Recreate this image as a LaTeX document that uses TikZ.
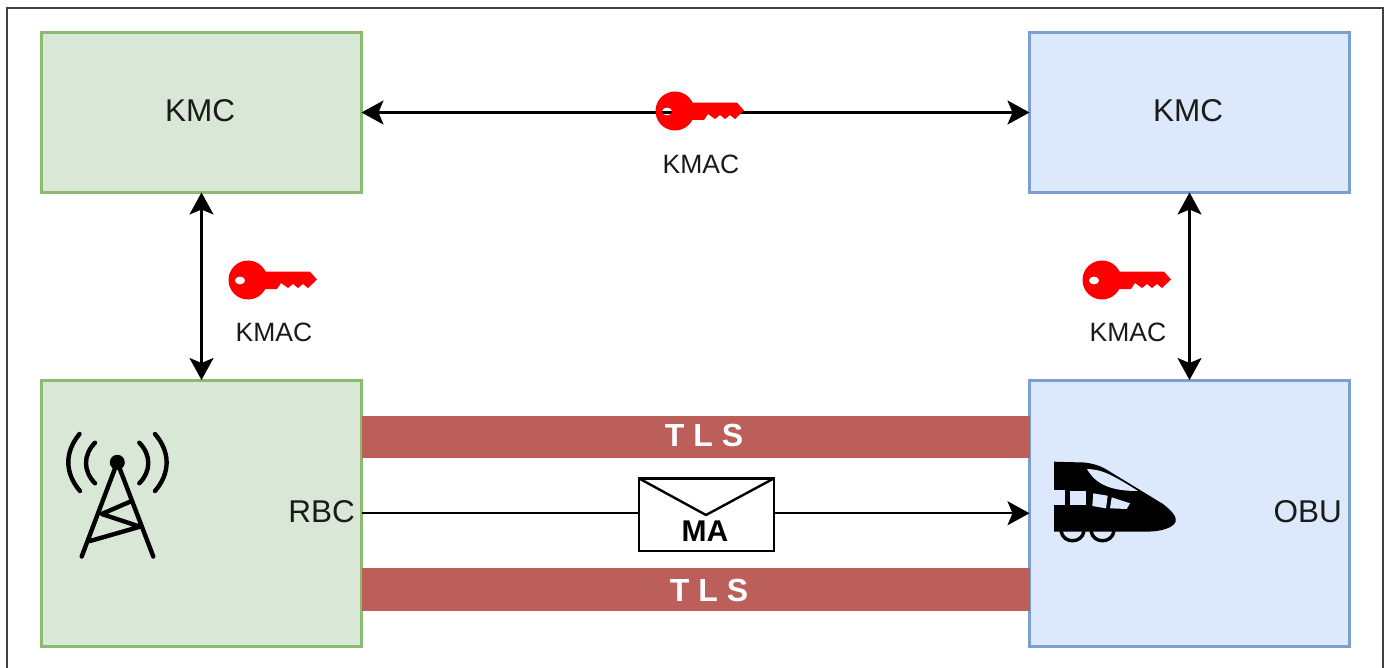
\documentclass[tikz,border=0pt]{standalone}
\usepackage{fontspec}
\setmainfont{Liberation Sans}
\usetikzlibrary{arrows.meta}
\definecolor{gfill}{HTML}{D9E8D6}
\definecolor{gline}{HTML}{8ABB70}
\definecolor{bfill}{HTML}{DCE8FB}
\definecolor{bline}{HTML}{7C9FD0}
\definecolor{tlsred}{HTML}{BC5F5A}
\definecolor{txt}{HTML}{1A1A1A}
\tikzset{
 x=1pt,y=-1pt,
 panel/.style={line width=3pt,minimum width=320pt,inner sep=0pt,outer sep=0pt,anchor=north west},
 gbox/.style={panel,draw=gline,fill=gfill},
 bbox/.style={panel,draw=bline,fill=bfill},
 lab/.style={font=\fontsize{31.5}{34}\selectfont,text=txt,inner sep=0pt},
 keylab/.style={font=\fontsize{26.5}{28}\selectfont,text=txt,inner sep=0pt},
 tlsbar/.style={fill=tlsred,draw=none,inner sep=0pt,outer sep=0pt,anchor=north west,minimum width=668pt,minimum height=42.4pt},
 tlstxt/.style={font=\bfseries\fontsize{32}{34}\selectfont,text=white,inner sep=0pt},
 tip/.tip={Stealth[length=22pt,width=24pt,inset=5pt]},
 conn/.style={line width=2.2pt,black,tip-tip},
 conn1/.style={line width=2.2pt,black,-tip},
 icon/.style={line width=4.4pt,black,line cap=round,line join=round},
}
% red key, origin at centre of the bow
\newcommand{\redkey}[2]{%
 \begin{scope}[shift={(#1,#2)}]
  \fill[red,even odd rule] (0,0) circle[radius=19.5] (-8,0.5) ellipse[x radius=5.2,y radius=4];
  \fill[red] (10,-8.3) -- (62,-8.3) -- (69,-0.5) -- (60,8) -- (55,4) -- (50,8) -- (45,4) -- (40,8) -- (33,3) -- (29,9) -- (10,9) -- cycle;
 \end{scope}}
\begin{document}
\begin{tikzpicture}
\useasboundingbox (0,0) rectangle (1386,668);
\fill[white] (0,0) rectangle (1386,668);
\draw[black!75,line width=2pt] (7,690) -- (7,8) -- (1383,8) -- (1383,690);
\node[gbox,minimum height=160pt] (kmcl) at (41.5,32.5) {};
\node[bbox,minimum height=160pt] (kmcr) at (1029.5,32.5) {};
\node[gbox,minimum height=266.5pt] (rbc) at (41.5,380) {};
\node[bbox,minimum height=266.5pt] (obu) at (1029.5,380) {};
\node[lab] (kmclt) at (200,111) {KMC};
\node[lab] (kmcrt) at (1188,111) {KMC};
\node[lab,anchor=east] (rbct) at (355,512) {RBC};
\node[lab,anchor=east] (obut) at (1342,512) {OBU};
\node[tlsbar] (tls1) at (361.5,416) {};
\node[tlsbar] (tls2) at (361.5,568.3) {};
\node[tlstxt] (tlst1) at (704,435) {T L S};
\node[tlstxt] (tlst2) at (709,590) {T L S};
\draw[conn] (kmcl) -- (kmcr);
\draw[conn] (kmcl) -- (rbc);
\draw[conn] (kmcr) -- (obu);
\node[draw=black,fill=white,line width=2.4pt,minimum width=134.5pt,minimum height=72.5pt,inner sep=0pt,outer sep=0pt,anchor=north west] (env) at (639.2,478.5) {};
\draw[line width=2.2pt] (rbc.east) -- (rbc.east -| env.west);
\draw[conn1] (obu.west -| env.east) -- (obu.west);
\draw[line width=2.4pt] (env.north west) -- (706,515) -- (env.north east);
\node[font=\bfseries\fontsize{30}{32}\selectfont,text=black,inner sep=0pt] (mat) at (705,531) {MA};
\redkey{675}{111}
\redkey{248}{280}
\redkey{1102}{280}
\node[keylab] (kt1) at (701,164) {KMAC};
\node[keylab] (kt2) at (274,332) {KMAC};
\node[keylab] (kt3) at (1128,332) {KMAC};
% antenna
\fill (117.3,462.3) circle[radius=7.5];
\draw[icon] (117.3,462.3) -- (81.7,556.5) (117.3,462.3) -- (153.3,556.5)
 (90,541) -- (140,526.7) -- (101.7,514) -- (130,501.7);
\draw[icon] (79.5,434) .. controls (64.5,452) and (64.5,473) .. (80,491);
\draw[icon] (95,442.7) .. controls (83,455) and (83,471) .. (95,483.3);
\draw[icon] (139.3,442.7) .. controls (151.3,455) and (151.3,471) .. (139.3,483.3);
\draw[icon] (155,434) .. controls (170.5,452) and (170.5,473) .. (155,491);
% train
\fill[black] (1054,461.7) -- (1084,462.5) .. controls (1098,464) and (1104,468) .. (1110,471.7) -- (1140,490) -- (1163,504) .. controls (1172,511) and (1177,517) .. (1175.7,521.7) .. controls (1174,526) and (1168,528.5) .. (1162,530) .. controls (1156,531.5) and (1150,531.7) .. (1140,531.7) -- (1054,531.7) -- cycle;
\fill[bfill] (1054,489.5) rectangle (1065,505);
\fill[bfill] (1070,490.7) rectangle (1086,505);
\fill[bfill] (1093.3,493.3) -- (1107.7,495.7) -- (1106,508.3) -- (1092.3,506) -- cycle;
\fill[bfill] (1111.7,497.3) -- (1130,503.3) -- (1126.7,509) -- (1110,508.3) -- cycle;
\fill[bfill] (1087,469) .. controls (1100,469.5) and (1108,472) .. (1138,491) .. controls (1112,491) and (1096,485) .. (1087,469) -- cycle;
\draw[black,line width=3.4pt] (1061,531) .. controls (1063,544) and (1082,544) .. (1084,531);
\draw[black,line width=3.4pt] (1091,531) .. controls (1093,544) and (1112,544) .. (1114,531);
\end{tikzpicture}
\end{document}
